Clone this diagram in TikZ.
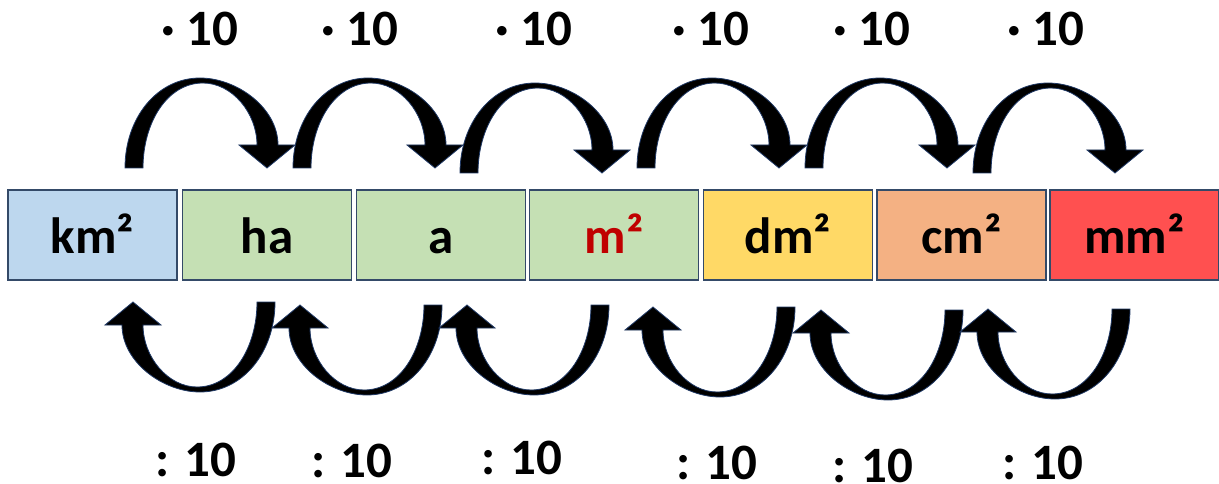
\documentclass[tikz,border=0pt]{standalone}
\usepackage{fontspec}
\setmainfont{Carlito}
\definecolor{boxline}{RGB}{52,74,104}
\definecolor{kmblue}{RGB}{189,215,238}
\definecolor{hagreen}{RGB}{197,224,180}
\definecolor{dmyellow}{RGB}{255,217,102}
\definecolor{cmorange}{RGB}{244,177,131}
\definecolor{mmred}{RGB}{255,80,80}
\definecolor{mdark}{RGB}{192,0,0}
\definecolor{arrowline}{RGB}{31,56,100}
\tikzset{
  unit/.style={draw=boxline,line width=1.5pt,minimum width=169pt,minimum height=90pt,inner sep=0pt,text height=36pt,text depth=0pt,font=\fontsize{51}{51}\selectfont\bfseries},
  factor/.style={font=\fontsize{51}{51}\selectfont\bfseries,inner sep=2pt,text height=33pt,text depth=0pt},
  bendarrow/.pic={
    \filldraw[fill=black,draw=arrowline,line width=0.8pt] (-142,0) .. controls (-142,-50) and (-110,-90) .. (-67,-90)
      .. controls (-30,-90) and (11,-60) .. (11,-23) -- (28,-23) -- (0,0) -- (-28,-23) -- (-10,-23)
      .. controls (-10,-55) and (-35,-85) .. (-64,-85) .. controls (-100,-85) and (-124,-45) .. (-124,0) -- cycle;
  }
}
\begin{document}
\begin{tikzpicture}[x=1pt,y=-1pt]
\useasboundingbox (0,0) rectangle (1219,484);
% units
\foreach \name/\x/\col/\txt in {km/92.5/kmblue/km², ha/267/hagreen/ha, a/441/hagreen/a, m/614/hagreen/{\textcolor{mdark}{m²}}, dm/788/dmyellow/dm², cm/961.5/cmorange/cm², mm/1134.5/mmred/mm²}
  \node[unit,fill=\col] (\name) at (\x,235) {\txt};
% multiply
\foreach \tx/\ty [count=\i] in {267/168, 435/168, 602/173, 779/168, 947/168, 1115/173}
  \pic at (\tx,\ty) {bendarrow};
\foreach \lx [count=\i] in {200, 360, 534, 711, 872, 1046}
  \node[factor] (times\i) at (\lx,29) {· 10};
% divide
\foreach \tx/\ty [count=\i] in {133/302, 300/305, 467/305, 653/307, 821/310, 988/309}
  \pic[rotate=180] at (\tx,\ty) {bendarrow};
\foreach \lx/\ly [count=\i] in {196/460, 352/461, 522/458, 717/463, 873/466, 1043/463}
  \node[factor] (div\i) at (\lx,\ly) {: 10};
\end{tikzpicture}
\end{document}
